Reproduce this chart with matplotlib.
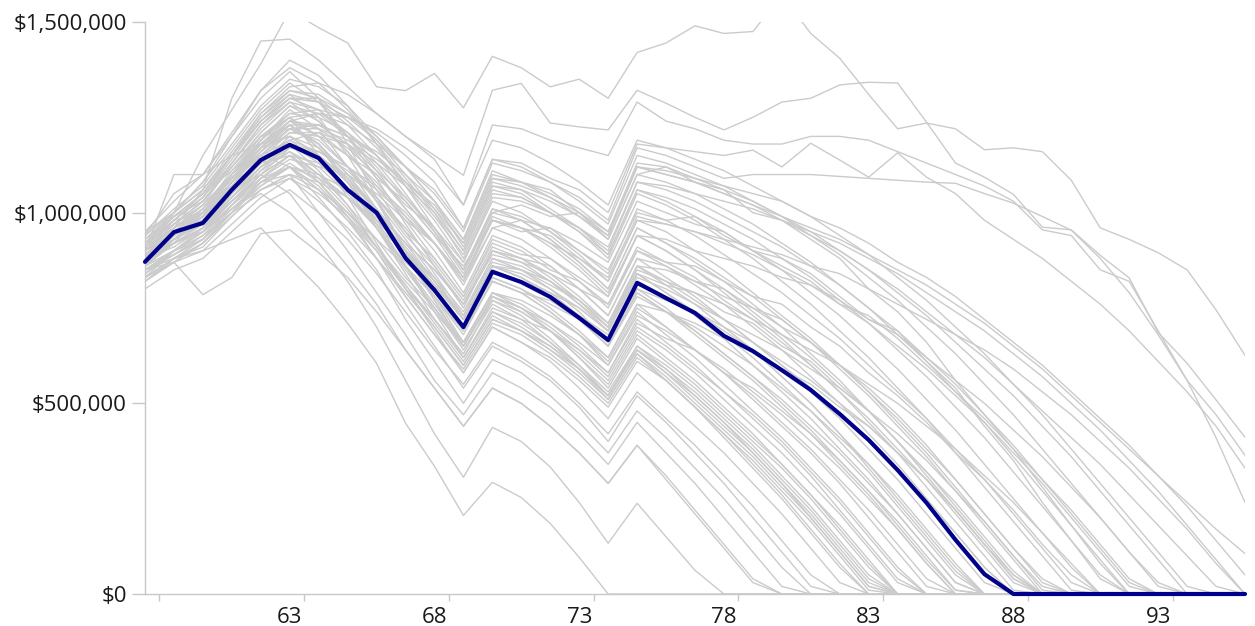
import numpy as np
import matplotlib.pyplot as plt
from matplotlib.ticker import FuncFormatter

# ages on the x axis (58 .. 96)
ages = list(range(58, 97))

# median path (thousands of $), drawn in navy
median_path = [871, 949, 973, 1060, 1138, 1178, 1143, 1060, 1000, 881,
               797, 700, 845, 818, 779, 724, 666, 816, 776, 737,
               677, 637, 587, 535, 472, 404, 325, 239, 142, 52,
               0, 0, 0, 0, 0, 0, 0, 0, 0]

# simulated paths (thousands of $), listed until they hit $0
sims_early = [
    [850, 880, 900, 930, 960, 880, 804, 710, 605, 448, 335, 206, 293, 253, 185, 96, 0],
    [830, 900, 940, 1000, 1050, 1000, 920, 820, 700, 560, 420, 306, 437, 400, 333, 240, 133, 238, 150, 62, 0],
    [880, 930, 1000, 1060, 1100, 1050, 950, 860, 760, 640, 540, 440, 540, 500, 440, 370, 290, 390, 300, 210, 120, 30, 0],
    [820, 870, 920, 1000, 1080, 1100, 1000, 900, 790, 680, 560, 470, 580, 540, 490, 420, 340, 450, 370, 290, 200, 110, 20, 0],
    [900, 960, 1010, 1090, 1150, 1120, 1040, 950, 850, 720, 610, 500, 615, 580, 520, 450, 370, 480, 410, 330, 250, 160, 70, 0],
    [860, 920, 950, 1030, 1100, 1150, 1080, 990, 880, 760, 650, 540, 650, 610, 560, 490, 400, 520, 450, 370, 290, 200, 110, 20, 0],
    [850, 870, 785, 830, 945, 955, 895, 830, 740, 640, 540, 440, 540, 500, 440, 370, 290, 390, 310, 220, 130, 40, 0],
    [800, 850, 880, 950, 1020, 1060, 1000, 930, 840, 740, 640, 550, 660, 620, 570, 500, 420, 530, 460, 390, 310, 230, 140, 50, 0],
]

sims_mid = [
    [910, 980, 1000, 1100, 1200, 1250, 1150, 1040, 920, 800, 690, 580, 700, 660, 610, 540, 460, 580, 510, 440, 370, 290, 210, 120, 30, 0],
    [840, 890, 930, 1010, 1080, 1120, 1060, 980, 900, 780, 680, 590, 710, 680, 630, 570, 500, 620, 560, 490, 420, 340, 260, 170, 80, 0],
    [870, 950, 980, 1060, 1130, 1200, 1170, 1090, 980, 860, 740, 620, 740, 700, 650, 590, 520, 640, 580, 520, 450, 380, 300, 220, 130, 40, 0],
    [900, 940, 990, 1080, 1160, 1230, 1180, 1080, 960, 840, 720, 630, 770, 740, 690, 620, 550, 680, 620, 560, 490, 420, 340, 260, 170, 80, 0],
    [820, 880, 910, 990, 1060, 1090, 1030, 960, 880, 790, 700, 600, 720, 690, 640, 590, 520, 650, 600, 540, 470, 400, 330, 250, 160, 70, 0],
    [950, 1000, 1060, 1150, 1250, 1310, 1250, 1150, 1030, 900, 780, 660, 790, 750, 690, 620, 540, 670, 610, 550, 480, 410, 340, 260, 180, 90, 0],
    [880, 920, 960, 1050, 1120, 1160, 1120, 1050, 960, 860, 760, 660, 790, 760, 710, 650, 580, 720, 660, 600, 530, 460, 390, 310, 220, 130, 40, 0],
    [860, 930, 980, 1080, 1190, 1270, 1220, 1120, 1010, 890, 770, 650, 780, 750, 700, 640, 570, 700, 650, 590, 530, 470, 400, 320, 240, 150, 60, 0],
    [900, 970, 1020, 1100, 1170, 1200, 1150, 1080, 990, 880, 780, 680, 820, 790, 740, 680, 600, 740, 680, 620, 550, 480, 410, 330, 250, 160, 70, 0],
    [940, 1050, 1100, 1200, 1300, 1370, 1300, 1180, 1040, 900, 770, 650, 770, 730, 670, 600, 520, 640, 580, 510, 440, 370, 290, 210, 120, 30, 0],
    [830, 880, 930, 1020, 1100, 1150, 1090, 1010, 910, 810, 710, 610, 730, 690, 640, 580, 510, 630, 570, 500, 430, 360, 280, 200, 110, 20, 0],
    [850, 890, 930, 1000, 1080, 1130, 1080, 1000, 910, 810, 720, 620, 740, 710, 660, 600, 530, 650, 590, 530, 460, 390, 310, 230, 140, 50, 0],
    [890, 950, 1000, 1090, 1170, 1230, 1170, 1080, 970, 860, 750, 640, 760, 720, 660, 590, 510, 630, 560, 490, 410, 330, 250, 160, 70, 0],
    [870, 920, 970, 1050, 1130, 1190, 1140, 1060, 960, 850, 750, 650, 780, 740, 690, 630, 560, 690, 640, 580, 510, 440, 370, 290, 210, 120, 30, 0],
    [860, 900, 950, 1020, 1080, 1120, 1060, 980, 880, 780, 680, 580, 700, 660, 620, 560, 490, 610, 560, 490, 420, 350, 270, 190, 100, 10, 0],
    [890, 930, 980, 1060, 1130, 1180, 1110, 1020, 910, 800, 700, 600, 720, 690, 650, 590, 520, 640, 590, 520, 450, 370, 290, 200, 110, 20, 0],
]

sims_late = [
    [850, 900, 950, 1030, 1110, 1180, 1150, 1090, 1010, 920, 820, 720, 860, 830, 780, 720, 650, 790, 740, 680, 620, 560, 490, 420, 340, 260, 170, 80, 0],
    [920, 990, 1030, 1120, 1210, 1280, 1240, 1160, 1060, 950, 840, 730, 880, 850, 800, 740, 660, 800, 750, 690, 630, 570, 500, 430, 350, 270, 180, 90, 10, 0],
    [870, 940, 990, 1070, 1140, 1190, 1160, 1110, 1040, 960, 870, 770, 910, 880, 830, 770, 700, 840, 790, 730, 670, 600, 530, 460, 380, 300, 210, 120, 30, 0],
    [830, 880, 920, 1000, 1070, 1120, 1100, 1060, 1000, 920, 850, 760, 900, 880, 840, 780, 710, 860, 810, 760, 700, 640, 570, 500, 420, 340, 250, 160, 70, 0],
    [940, 1010, 1070, 1170, 1270, 1340, 1290, 1200, 1090, 970, 860, 750, 900, 870, 820, 760, 690, 840, 790, 740, 680, 620, 550, 480, 400, 320, 230, 140, 50, 0],
    [850, 900, 960, 1050, 1140, 1210, 1200, 1150, 1080, 990, 900, 790, 940, 910, 860, 800, 730, 880, 830, 780, 720, 660, 600, 530, 460, 380, 300, 210, 120, 30, 0],
    [900, 960, 1020, 1100, 1180, 1230, 1180, 1100, 1000, 900, 800, 700, 830, 800, 750, 690, 620, 760, 700, 640, 580, 510, 440, 370, 290, 200, 110, 20, 0],
    [880, 920, 950, 1010, 1060, 1100, 1080, 1040, 980, 900, 830, 740, 880, 860, 820, 770, 710, 860, 820, 770, 720, 660, 600, 540, 470, 400, 320, 240, 160, 70, 0],
    [900, 1100, 1100, 1150, 1180, 1200, 1150, 1080, 990, 890, 790, 690, 820, 790, 740, 680, 610, 750, 700, 640, 580, 520, 450, 380, 300, 220, 130, 40, 0],
    [880, 940, 990, 1080, 1170, 1240, 1200, 1120, 1030, 930, 830, 720, 860, 830, 780, 720, 650, 790, 740, 690, 630, 570, 510, 440, 370, 290, 210, 120, 30, 0],
    [820, 870, 900, 970, 1040, 1090, 1050, 990, 910, 820, 740, 650, 780, 750, 710, 660, 600, 730, 690, 640, 590, 530, 470, 400, 330, 250, 170, 80, 0],
    [890, 950, 1000, 1090, 1180, 1240, 1220, 1170, 1100, 1010, 920, 810, 960, 930, 880, 820, 750, 900, 860, 810, 760, 700, 640, 570, 500, 420, 340, 250, 160, 70, 0],
    [860, 920, 960, 1040, 1120, 1170, 1160, 1120, 1070, 1000, 920, 830, 980, 960, 920, 860, 790, 940, 900, 850, 790, 730, 670, 600, 530, 450, 370, 280, 190, 100, 10, 0],
    [910, 980, 1040, 1140, 1240, 1310, 1290, 1230, 1150, 1050, 950, 840, 1000, 980, 930, 870, 800, 960, 920, 880, 830, 780, 720, 660, 590, 520, 440, 360, 270, 180, 90, 0],
    [880, 960, 1010, 1110, 1200, 1260, 1250, 1210, 1150, 1070, 980, 870, 1030, 1000, 950, 890, 820, 980, 950, 900, 850, 790, 730, 670, 600, 530, 450, 370, 280, 190, 100, 10, 0],
    [900, 970, 1030, 1120, 1210, 1280, 1260, 1200, 1120, 1030, 940, 830, 990, 960, 910, 850, 780, 940, 900, 850, 800, 740, 680, 620, 550, 480, 400, 320, 240, 150, 60, 0],
    [950, 1030, 1100, 1210, 1320, 1400, 1360, 1280, 1180, 1070, 960, 850, 1010, 980, 930, 870, 800, 960, 920, 870, 820, 760, 700, 630, 560, 480, 400, 310, 220, 130, 40, 0],
    [930, 990, 1050, 1110, 1180, 1230, 1170, 1090, 1000, 900, 820, 720, 850, 820, 790, 730, 680, 820, 780, 740, 690, 640, 570, 500, 420, 330, 240, 150, 60, 0],
    [830, 870, 920, 990, 1060, 1100, 1060, 1000, 930, 860, 780, 690, 820, 790, 770, 720, 650, 780, 740, 700, 650, 600, 540, 480, 410, 340, 260, 170, 80, 0],
    [850, 890, 940, 1020, 1090, 1120, 1070, 990, 900, 800, 720, 620, 750, 720, 690, 640, 580, 710, 670, 640, 580, 540, 480, 420, 350, 270, 190, 100, 10, 0],
]

sims_long = [
    [900, 970, 1030, 1130, 1230, 1300, 1300, 1260, 1200, 1120, 1030, 910, 1080, 1060, 1010, 960, 890, 1060, 1030, 990, 950, 900, 850, 790, 730, 660, 590, 510, 430, 340, 250, 160, 70, 0],
    [870, 930, 980, 1060, 1150, 1220, 1230, 1200, 1160, 1100, 1030, 930, 1100, 1080, 1040, 990, 930, 1100, 1080, 1050, 1010, 970, 920, 870, 810, 750, 680, 610, 530, 450, 360, 270, 180, 90, 0],
    [930, 1000, 1080, 1200, 1320, 1380, 1340, 1270, 1180, 1090, 1000, 880, 1050, 1040, 1000, 960, 900, 1080, 1060, 1030, 990, 950, 910, 860, 810, 750, 690, 620, 550, 470, 390, 300, 210, 120, 30, 0],
    [890, 950, 1010, 1100, 1190, 1260, 1270, 1250, 1210, 1150, 1080, 960, 1140, 1120, 1080, 1030, 970, 1150, 1130, 1100, 1070, 1030, 990, 940, 890, 830, 770, 700, 630, 550, 470, 380, 290, 200, 110, 20, 0],
    [860, 940, 1000, 1090, 1180, 1240, 1260, 1250, 1220, 1170, 1110, 1020, 1190, 1170, 1130, 1080, 1020, 1190, 1170, 1140, 1110, 1070, 1030, 990, 940, 890, 830, 770, 700, 630, 550, 470, 380, 290, 200, 110, 20, 0],
    [920, 1000, 1060, 1160, 1260, 1320, 1310, 1260, 1190, 1100, 1010, 900, 1070, 1050, 1000, 950, 880, 1050, 1020, 980, 930, 880, 820, 760, 690, 620, 540, 460, 370, 280, 190, 100, 10, 0],
    [910, 980, 1040, 1130, 1220, 1290, 1270, 1210, 1130, 1040, 950, 850, 1010, 990, 950, 900, 840, 1010, 980, 940, 890, 840, 790, 730, 670, 600, 530, 460, 380, 300, 210, 120, 30, 0],
    [860, 930, 970, 1060, 1150, 1210, 1210, 1180, 1130, 1070, 1000, 900, 1070, 1060, 1030, 990, 940, 1120, 1110, 1090, 1060, 1030, 990, 950, 900, 850, 790, 730, 660, 590, 520, 440, 360, 270, 180, 90, 0],
    [930, 990, 1050, 1150, 1250, 1320, 1300, 1240, 1170, 1080, 990, 890, 1060, 1040, 1000, 950, 890, 1060, 1040, 1010, 970, 930, 880, 830, 770, 710, 640, 570, 490, 410, 320, 230, 140, 50, 0],
    [880, 930, 990, 1070, 1160, 1230, 1230, 1200, 1150, 1080, 1010, 920, 1090, 1070, 1040, 1000, 940, 1120, 1100, 1080, 1050, 1020, 980, 940, 900, 850, 800, 740, 680, 620, 550, 480, 410, 340, 260, 180, 100, 20, 0],
    [870, 920, 1000, 1080, 1150, 1190, 1210, 1150, 1100, 1020, 960, 850, 1000, 1020, 990, 1000, 930, 1100, 1120, 1080, 1060, 1000, 980, 930, 880, 800, 740, 660, 560, 470, 380, 280, 180, 80, 0],
    [900, 950, 980, 1100, 1180, 1250, 1200, 1180, 1090, 1030, 940, 860, 980, 950, 960, 900, 850, 1000, 980, 990, 940, 900, 880, 840, 780, 720, 690, 610, 540, 440, 350, 240, 140, 40, 0],
    [850, 900, 930, 1000, 1090, 1140, 1120, 1100, 1050, 980, 920, 820, 960, 980, 960, 920, 870, 1030, 1000, 970, 950, 900, 860, 820, 760, 730, 670, 600, 530, 460, 380, 300, 220, 130, 40, 0],
    [920, 970, 1030, 1120, 1200, 1220, 1180, 1100, 1040, 940, 860, 760, 900, 880, 860, 800, 760, 900, 870, 860, 820, 780, 760, 700, 650, 580, 520, 450, 370, 300, 220, 130, 50, 0],
    [880, 910, 960, 1030, 1090, 1150, 1130, 1060, 1000, 920, 850, 760, 890, 870, 840, 800, 730, 880, 860, 820, 800, 750, 720, 660, 600, 540, 470, 390, 300, 210, 120, 30, 0],
    [860, 920, 960, 1030, 1100, 1170, 1150, 1080, 980, 900, 810, 720, 860, 850, 820, 760, 700, 860, 850, 820, 780, 750, 700, 660, 600, 530, 460, 380, 300, 210, 120, 40, 0],
    [890, 950, 1010, 1090, 1160, 1220, 1190, 1120, 1040, 950, 880, 780, 920, 890, 880, 830, 780, 940, 930, 900, 880, 860, 830, 810, 770, 720, 680, 620, 560, 500, 430, 360, 280, 200, 110, 30, 0],
    [840, 900, 950, 1040, 1120, 1180, 1160, 1120, 1060, 990, 920, 830, 980, 960, 920, 880, 820, 980, 970, 950, 930, 910, 890, 860, 840, 800, 760, 720, 680, 640, 590, 530, 470, 400, 330, 250, 170, 80, 0],
    [910, 960, 1020, 1130, 1230, 1290, 1240, 1160, 1070, 980, 880, 780, 930, 900, 850, 820, 760, 910, 870, 830, 770, 720, 660, 600, 530, 460, 380, 300, 210, 120, 30, 0],
    [870, 940, 990, 1070, 1130, 1150, 1100, 1040, 960, 870, 800, 700, 830, 800, 760, 720, 660, 800, 770, 740, 700, 660, 610, 560, 500, 440, 370, 300, 220, 130, 50, 0],
    [900, 960, 1000, 1060, 1140, 1180, 1130, 1060, 980, 900, 810, 720, 860, 840, 800, 750, 690, 830, 800, 760, 720, 680, 640, 590, 540, 480, 420, 350, 270, 190, 100, 20, 0],
    [880, 940, 1000, 1090, 1170, 1230, 1180, 1100, 1010, 910, 820, 730, 870, 850, 810, 770, 700, 850, 820, 790, 740, 710, 650, 610, 540, 480, 400, 320, 230, 140, 50, 0],
    [920, 980, 1050, 1150, 1240, 1300, 1270, 1200, 1110, 1010, 920, 820, 980, 960, 940, 880, 830, 990, 970, 950, 920, 890, 850, 810, 760, 710, 650, 590, 520, 450, 370, 290, 200, 110, 20, 0],
    [870, 930, 970, 1040, 1110, 1160, 1100, 1020, 930, 830, 750, 660, 790, 770, 730, 680, 620, 760, 740, 710, 670, 640, 590, 550, 490, 440, 370, 300, 220, 130, 40, 0],
    [890, 940, 990, 1080, 1170, 1240, 1230, 1180, 1110, 1040, 960, 870, 1040, 1030, 1000, 960, 910, 1080, 1070, 1050, 1030, 1010, 980, 950, 920, 880, 840, 790, 740, 690, 630, 570, 500, 430, 350, 270, 180, 90, 0],
    [860, 900, 950, 1010, 1070, 1120, 1090, 1040, 970, 890, 810, 720, 860, 830, 790, 750, 690, 840, 810, 790, 760, 720, 680, 640, 600, 550, 500, 440, 380, 310, 240, 160, 80, 0],
]

# paths still above $0 at 96
sims_top = [
    [880, 1000, 1150, 1270, 1390, 1530, 1485, 1445, 1330, 1320, 1365, 1275, 1410, 1380, 1330, 1350, 1300, 1420, 1445, 1490,
     1470, 1475, 1570, 1470, 1405, 1310, 1220, 1235, 1220, 1165, 1170, 1160, 1085, 960, 930, 895, 850, 745, 626],
    [870, 960, 1060, 1300, 1450, 1455, 1400, 1330, 1260, 1200, 1150, 1098, 1321, 1339, 1235, 1225, 1217, 1321, 1287, 1250,
     1217, 1250, 1290, 1300, 1335, 1342, 1340, 1237, 1130, 1093, 1048, 962, 955, 888, 829, 686, 605, 509, 411],
    [900, 980, 1040, 1150, 1260, 1330, 1340, 1310, 1260, 1200, 1140, 1020, 1230, 1220, 1190, 1170, 1150, 1290, 1240, 1220,
     1190, 1180, 1180, 1200, 1200, 1190, 1160, 1130, 1100, 1070, 1030, 955, 940, 850, 820, 690, 560, 470, 364],
    [880, 950, 1010, 1100, 1190, 1250, 1260, 1230, 1180, 1120, 1060, 960, 1140, 1130, 1090, 1060, 1000, 1180, 1170, 1160,
     1150, 1164, 1120, 1182, 1138, 1093, 1157, 1093, 1050, 980, 930, 880, 820, 760, 690, 610, 530, 440, 330],
    [910, 990, 1050, 1150, 1240, 1300, 1290, 1250, 1190, 1120, 1050, 950, 1130, 1110, 1080, 1040, 980, 1170, 1150, 1120,
     1090, 1100, 1100, 1100, 1095, 1090, 1085, 1080, 1077, 1050, 1025, 990, 954, 880, 790, 680, 560, 410, 240],
    [860, 930, 980, 1070, 1160, 1220, 1220, 1190, 1140, 1080, 1020, 920, 1090, 1080, 1050, 1010, 950, 1120, 1100, 1080,
     1050, 1020, 990, 960, 930, 890, 850, 810, 760, 710, 650, 590, 520, 450, 380, 310, 240, 170, 106],
    [940, 1000, 1080, 1180, 1280, 1350, 1330, 1280, 1200, 1120, 1030, 930, 1110, 1080, 1060, 1000, 950, 1130, 1120, 1090,
     1070, 1050, 1030, 990, 960, 920, 870, 830, 780, 720, 660, 600, 530, 460, 390, 310, 230, 140, 50],
]

plt.rcParams['font.family'] = ['Open Sans', 'DejaVu Sans']

fig = plt.figure(figsize=(12.55, 6.26), dpi=100)
ax = fig.add_axes([145 / 1255, 32 / 626, 1100 / 1255, 572 / 626])

n = len(ages)
for group in (sims_early, sims_mid, sims_late, sims_long, sims_top):
    for path in group:
        vals = np.array(path + [0] * (n - len(path))) * 1000
        ax.plot(ages, vals, color='#cbcbcb', lw=1.0, zorder=2)

ax.plot(ages, np.array(median_path) * 1000, color='#00008b', lw=3.0,
        zorder=5, clip_on=False, solid_capstyle='round')

ax.set_xlim(58, 96)
ax.set_ylim(0, 1_500_000)

for side in ['top', 'right']:
    ax.spines[side].set_visible(False)
for side in ['left', 'bottom']:
    ax.spines[side].set_color('#c8c8c8')
    ax.spines[side].set_linewidth(1.0)

ax.set_yticks([0, 500_000, 1_000_000, 1_500_000])
ax.yaxis.set_major_formatter(FuncFormatter(lambda v, p: f'${v:,.0f}'))
ax.tick_params(axis='y', length=9.5, width=1, color='#c8c8c8', pad=3.5,
               labelsize=16, labelcolor='#1a1a1a')

ax.set_xticks(list(range(63, 94, 5)))
ax.set_xticks(np.arange(58.5, 94, 5), minor=True)
ax.tick_params(axis='x', which='major', length=0, pad=9.5,
               labelsize=16, labelcolor='#1a1a1a')
ax.tick_params(axis='x', which='minor', length=5, width=1, color='#c8c8c8')

fig.savefig('out.png', dpi=100)
